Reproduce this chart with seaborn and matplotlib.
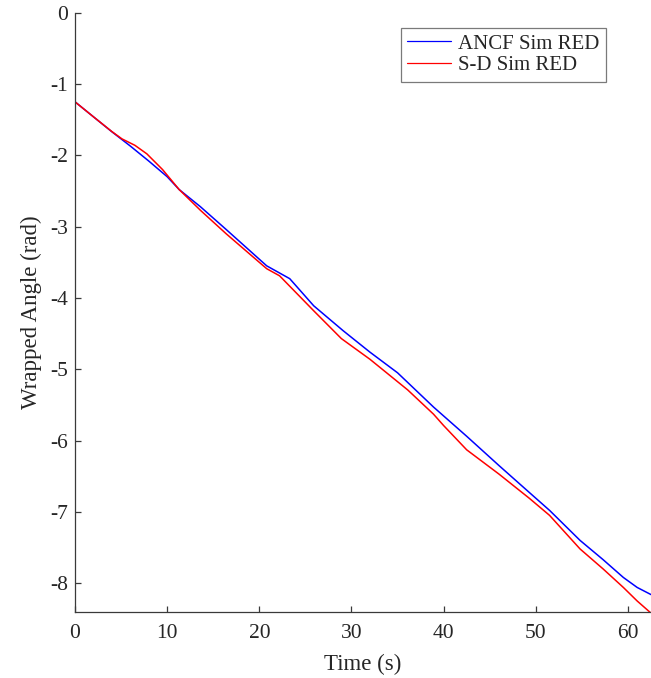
import matplotlib
matplotlib.use("Agg")
import matplotlib.pyplot as plt
import pandas as pd
import seaborn as sns

# Wrapped angle traces, time in seconds, angle in radians
ancf_time = [0, 2, 4, 5, 6, 8, 10, 11.3, 13.6, 16.4, 20.8, 23.3, 25.9, 29.1,
             32, 35.0, 38.9, 42.5, 46, 49.4, 51.5, 54.8, 57.3, 59.5, 61, 62.5]
ancf_angle = [-1.25, -1.46, -1.67, -1.77, -1.87, -2.08, -2.30, -2.48, -2.72, -3.04,
              -3.55, -3.73, -4.11, -4.46, -4.76, -5.05, -5.53, -5.94, -6.35,
              -6.74, -6.98, -7.40, -7.67, -7.92, -8.06, -8.16]

sd_time = [0, 2, 4, 5.1, 6.5, 7.8, 9.5, 11.3, 13.6, 16.4, 20.8, 22.2, 25.9,
           28.9, 32, 36.1, 38.9, 40, 42.5, 46, 49.3, 51.5, 54.8, 57.3, 59.5, 61, 62.5]
sd_angle = [-1.25, -1.46, -1.667, -1.77, -1.86, -1.98, -2.20, -2.48, -2.77, -3.10,
            -3.59, -3.69, -4.18, -4.57, -4.86, -5.29, -5.63, -5.79, -6.13,
            -6.47, -6.81, -7.05, -7.52, -7.80, -8.06, -8.25, -8.42]

series_names = ["ANCF Sim RED", "S-D Sim RED"]
series_colors = ["#0000ff", "#ff0000"]

x_ticks = [0, 10, 20, 30, 40, 50, 60]
y_ticks = [0, -1, -2, -3, -4, -5, -6, -7, -8]

df = pd.concat([
    pd.DataFrame({"Time": ancf_time, "Angle": ancf_angle, "Series": series_names[0]}),
    pd.DataFrame({"Time": sd_time, "Angle": sd_angle, "Series": series_names[1]}),
], ignore_index=True)

sns.set_theme(style="white")
plt.rcParams["font.family"] = ["Liberation Serif", "DejaVu Serif"]
plt.rcParams["axes.unicode_minus"] = False

axis_color = "#3a3a3a"

fig = plt.figure(figsize=(6.51, 6.78), dpi=100)
ax = fig.add_axes([0.1152, 0.0978, 0.8848, 0.8835])

sns.lineplot(data=df, x="Time", y="Angle", hue="Series",
             palette=dict(zip(series_names, series_colors)),
             sort=False, estimator=None, linewidth=1.1, ax=ax)

ax.set_xlim(0, 62.5)
ax.set_ylim(-8.4, 0)
ax.set_xticks(x_ticks)
ax.set_yticks(y_ticks)
ax.set_xticklabels([str(v) for v in x_ticks])
ax.set_yticklabels([str(v) for v in y_ticks])

ax.set_xlabel("Time (s)", fontsize=16.5, color="#262626", labelpad=8)
ax.set_ylabel("Wrapped Angle (rad)", fontsize=16.5, color="#262626", labelpad=6)

for side in ["top", "right"]:
    ax.spines[side].set_visible(False)
for side in ["left", "bottom"]:
    ax.spines[side].set_color(axis_color)
    ax.spines[side].set_linewidth(0.9)

ax.tick_params(axis="both", which="major", bottom=True, left=True,
               direction="in", length=4.5, width=0.9,
               color=axis_color, labelsize=15.5, labelcolor="#262626", pad=5)
ax.tick_params(axis="x", pad=9)

handles, labels = ax.get_legend_handles_labels()
leg = ax.legend(handles, labels, loc="upper right",
                bbox_to_anchor=(0.922, 0.9745), fontsize=15,
                frameon=True, fancybox=False, framealpha=1,
                edgecolor="#7a7a7a", handlelength=2.1, handletextpad=0.35,
                borderpad=0.3, labelspacing=0.1, borderaxespad=0)
leg.get_frame().set_linewidth(0.9)
for line in leg.get_lines():
    line.set_linewidth(0.9)

fig.savefig("out.png", dpi=100)
